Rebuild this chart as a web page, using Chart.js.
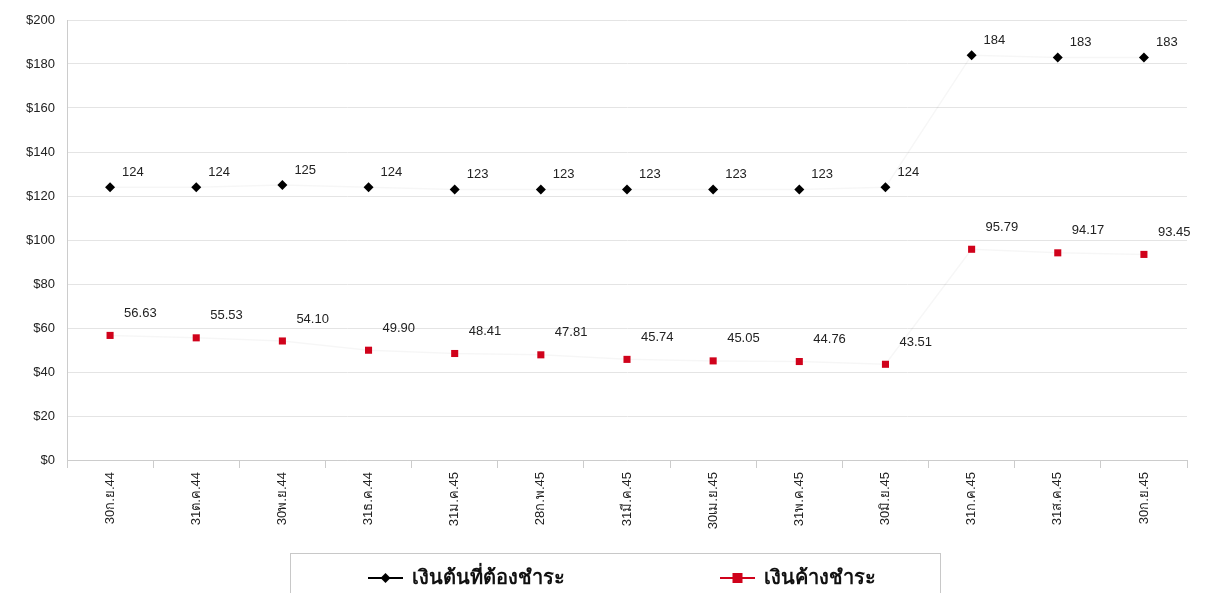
<!DOCTYPE html>
<html><head><meta charset="utf-8">
<script src="https://cdn.jsdelivr.net/npm/chart.js@4.4.1/dist/chart.umd.min.js"></script>
<style>html,body{margin:0;padding:0;background:#fff}#wrap{width:1206px;height:593px}</style>
</head><body><div id="wrap"><canvas id="c" width="1206" height="593"></canvas></div>
<script>
const categories = ["30ก.ย.44","31ต.ค.44","30พ.ย.44","31ธ.ค.44","31ม.ค.45","28ก.พ.45","31มี.ค.45","30เม.ย.45","31พ.ค.45","30มิ.ย.45","31ก.ค.45","31ส.ค.45","30ก.ย.45"];
const principalDue = [124,124,125,124,123,123,123,123,123,124,184,183,183];
const overdue = [56.63,55.53,54.10,49.90,48.41,47.81,45.74,45.05,44.76,43.51,95.79,94.17,93.45];
const principalLabels = ["124","124","125","124","123","123","123","123","123","124","184","183","183"];
const overdueLabels = ["56.63","55.53","54.10","49.90","48.41","47.81","45.74","45.05","44.76","43.51","95.79","94.17","93.45"];
const seriesNames = ["เงินต้นที่ต้องชำระ","เงินค้างชำระ"];
const yTicks = [0,20,40,60,80,100,120,140,160,180,200];

const labelPlugin = {
  id:'vals',
  afterDatasetsDraw(chart){
    const ctx = chart.ctx; ctx.save();
    ctx.font = '13px "Liberation Sans", Arial, sans-serif'; ctx.fillStyle = '#222';
    ctx.textBaseline = 'middle'; ctx.textAlign = 'left';
    const lbls = [principalLabels, overdueLabels];
    chart.data.datasets.forEach((ds,di)=>{
      chart.getDatasetMeta(di).data.forEach((pt,i)=>{
        const dx = di===0 ? 12 : 14, dy = di===0 ? -15 : -22;
        ctx.fillText(lbls[di][i], pt.x+dx, pt.y+dy);
      });
    });
    ctx.restore();
  }
};

// custom legend: line + marker icon, bordered box
const legendPlugin = {
  id:'customLegend',
  afterDraw(chart){
    const ctx = chart.ctx; ctx.save();
    const top = 553;
    ctx.strokeStyle = '#c8c8c8'; ctx.lineWidth = 1;
    ctx.strokeRect(290.5, top+0.5, 650, 60);
    const cy = 578;
    const items = [
      { x:368, color:'#000', shape:'diamond', text: chart.data.datasets[0].label },
      { x:720, color:'#d0021b', shape:'square', text: chart.data.datasets[1].label }
    ];
    items.forEach(it=>{
      ctx.strokeStyle = it.color; ctx.lineWidth = 2;
      ctx.beginPath(); ctx.moveTo(it.x, cy); ctx.lineTo(it.x+35, cy); ctx.stroke();
      ctx.fillStyle = it.color;
      const mx = it.x + 17.5;
      if (it.shape==='diamond'){ ctx.beginPath(); ctx.moveTo(mx,cy-5); ctx.lineTo(mx+5,cy); ctx.lineTo(mx,cy+5); ctx.lineTo(mx-5,cy); ctx.closePath(); ctx.fill(); }
      else { ctx.fillRect(mx-5, cy-5, 10, 10); }
      ctx.fillStyle = '#111';
      ctx.font = 'bold 20px "Noto Sans", "Liberation Sans", sans-serif';
      ctx.textBaseline = 'middle'; ctx.textAlign = 'left';
      ctx.fillText(it.text, it.x + 44, cy);
    });
    ctx.restore();
  }
};

new Chart(document.getElementById('c'), {
  type:'line',
  data:{ labels: categories, datasets:[
    { label: seriesNames[0], data: principalDue, borderColor:'rgba(0,0,0,0.035)', borderWidth:1.5, backgroundColor:'#000',
      pointStyle:'rectRot', pointRadius:5, pointBackgroundColor:'#000', pointBorderColor:'#000', pointBorderWidth:0, tension:0 },
    { label: seriesNames[1], data: overdue, borderColor:'rgba(0,0,0,0.035)', borderWidth:1.5, backgroundColor:'#d0021b',
      pointStyle:'rect', pointRadius:5, pointBackgroundColor:'#d0021b', pointBorderColor:'#d0021b', pointBorderWidth:0, tension:0 }
  ]},
  options:{
    responsive:false, animation:false,
    layout:{ padding:{ top:20, right:19, left:0, bottom:41 } },
    plugins:{ legend:{ display:false }, tooltip:{ enabled:false } },
    scales:{
      x:{ offset:true,
        grid:{ display:true, drawOnChartArea:false, offset:true, color:'#ccc', tickLength:8 },
        border:{ color:'#ccc' },
        ticks:{ maxRotation:90, minRotation:90, padding:4, color:'#222', font:{ size:13, family:'"Liberation Sans", Arial, sans-serif' } },
        afterFit(s){ s.height = 92; } },
      y:{ min:0, max:200,
        afterBuildTicks(s){ s.ticks = yTicks.map(v=>({value:v})); },
        grid:{ color:'#e4e4e4', drawTicks:false },
        border:{ color:'#ccc' },
        ticks:{ padding:12, color:'#222', callback:v=>'$'+v, font:{ size:13, family:'"Liberation Sans", Arial, sans-serif' } },
        afterFit(s){ s.width = 67; } }
    }
  },
  plugins:[labelPlugin, legendPlugin]
});
</script></body></html>
